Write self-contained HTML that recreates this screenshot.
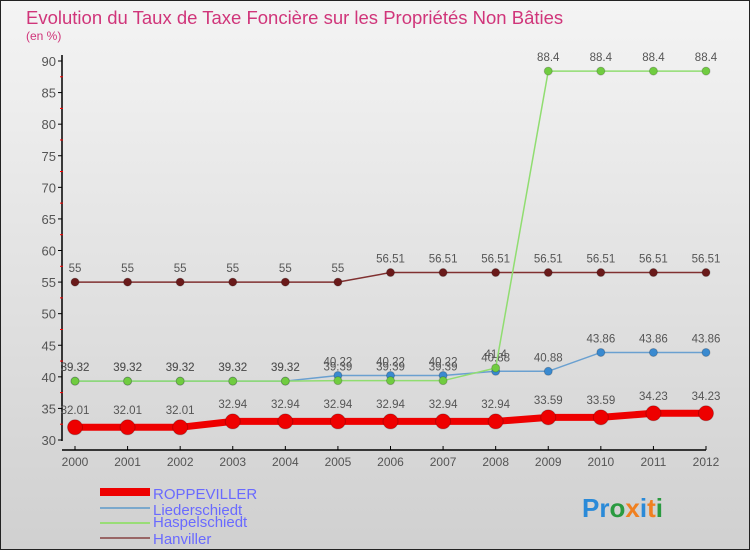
<!DOCTYPE html>
<html><head><meta charset="utf-8"><style>
body{margin:0;width:750px;height:550px;overflow:hidden;font-family:"Liberation Sans",sans-serif}
svg{display:block}
</style></head><body>
<svg id="c" width="750" height="550">
<defs><linearGradient id="bg" x1="0" y1="0" x2="0" y2="1"><stop offset="0" stop-color="#f4f4f4"/><stop offset="1" stop-color="#d0d0d0"/></linearGradient></defs>
<rect x="0" y="0" width="750" height="550" fill="url(#bg)" stroke="#222" stroke-width="2"/>
<text x="26" y="24" font-size="18.5" fill="#d0357a">Evolution du Taux de Taxe Foncière sur les Propriétés Non Bâties</text>
<text x="26" y="40" font-size="12" fill="#d0357a">(en %)</text>
<g id="g"></g>
<g>
<rect x="100" y="488" width="50" height="8" fill="#e00"/>
<text x="153" y="499" font-size="15" fill="#6a6aff">ROPPEVILLER</text>
<line x1="100" y1="508" x2="150" y2="508" stroke="#7aa8cc" stroke-width="2"/>
<text x="153" y="515" font-size="15" fill="#6a6aff">Liederschiedt</text>
<line x1="100" y1="523" x2="150" y2="523" stroke="#99dd77" stroke-width="2"/>
<text x="153" y="527" font-size="15" fill="#6a6aff">Haspelschiedt</text>
<line x1="100" y1="538" x2="150" y2="538" stroke="#996666" stroke-width="2"/>
<text x="153" y="544" font-size="15" fill="#6a6aff">Hanviller</text>
</g>
<text x="582" y="517" font-size="26" font-weight="bold"><tspan fill="#2a8ad8">Pr</tspan><tspan fill="#2a9a40">o</tspan><tspan fill="#f08020">x</tspan><tspan fill="#2a8ad8">i</tspan><tspan fill="#f08020">t</tspan><tspan fill="#2a9a40">i</tspan></text>
</svg>
<script>
const years=[2000,2001,2002,2003,2004,2005,2006,2007,2008,2009,2010,2011,2012];
const yTicks=[30,35,40,45,50,55,60,65,70,75,80,85,90];
const roppeviller=[32.01,32.01,32.01,32.94,32.94,32.94,32.94,32.94,32.94,33.59,33.59,34.23,34.23];
const liederschiedt=[39.32,39.32,39.32,39.32,39.32,40.22,40.22,40.22,40.88,40.88,43.86,43.86,43.86];
const haspelschiedt=[39.32,39.32,39.32,39.32,39.32,39.39,39.39,39.39,41.4,88.4,88.4,88.4,88.4];
const hanviller=[55,55,55,55,55,55,56.51,56.51,56.51,56.51,56.51,56.51,56.51];
const NS="http://www.w3.org/2000/svg";
const g=document.getElementById('g');
const X=i=>75+i*(706-75)/(years.length-1);
const Y=v=>440-(v-30)*(440-61)/60;
function mk(t,a,p){const e=document.createElementNS(NS,t);for(const k in a)e.setAttribute(k,a[k]);(p||g).appendChild(e);return e;}
let ax=mk('line',{x1:62,y1:55,x2:62,y2:441,stroke:'#000','stroke-width':1.5});


let bx=mk('line',{x1:62,y1:450,x2:706,y2:450,stroke:'#000','stroke-width':1.5});


yTicks.forEach(v=>{
  mk('line',{x1:58,y1:Y(v),x2:62,y2:Y(v),stroke:'#000'});
  if(v<90)mk('line',{x1:60,y1:Y(v+2.5),x2:63,y2:Y(v+2.5),stroke:'#f00'});
  const t=mk('text',{x:56,y:Y(v)+5,'font-size':13,fill:'#555','text-anchor':'end'});t.textContent=v;
  
  
});
years.forEach((yr,i)=>{
  mk('line',{x1:X(i),y1:446,x2:X(i),y2:450,stroke:'#000'});
  const t=mk('text',{x:X(i),y:466,'font-size':12,fill:'#555','text-anchor':'middle'});t.textContent=yr;
  
  
});
function series(name,vals,color,dot,w,r,lc){
  const s=mk('g',{});
  
  
  mk('polyline',{points:vals.map((v,i)=>X(i)+','+Y(v)).join(' '),fill:'none',stroke:color,'stroke-width':w},s);
  vals.forEach((v,i)=>{
    const c=mk('circle',{cx:X(i),cy:Y(v),r:r,fill:dot,stroke:'rgba(0,0,0,0.2)'},s);
    
    
    const t=mk('text',{x:X(i),y:Y(v)-(r+6),'font-size':11.5,fill:lc,'text-anchor':'middle'},s);
    t.textContent=v;
    
    
  });
}
series('hanviller',hanviller,'#803030','#6a1a1a',1.5,4,'#555');
series('liederschiedt',liederschiedt,'#6aa0d0','#3a8ad0',1.5,4,'#555');
series('haspelschiedt',haspelschiedt,'#90dd70','#70cc40',1.5,4,'#555');
series('roppeviller',roppeviller,'#ee0000','#ee0000',7,7.5,'#555');
</script>
</body></html>
